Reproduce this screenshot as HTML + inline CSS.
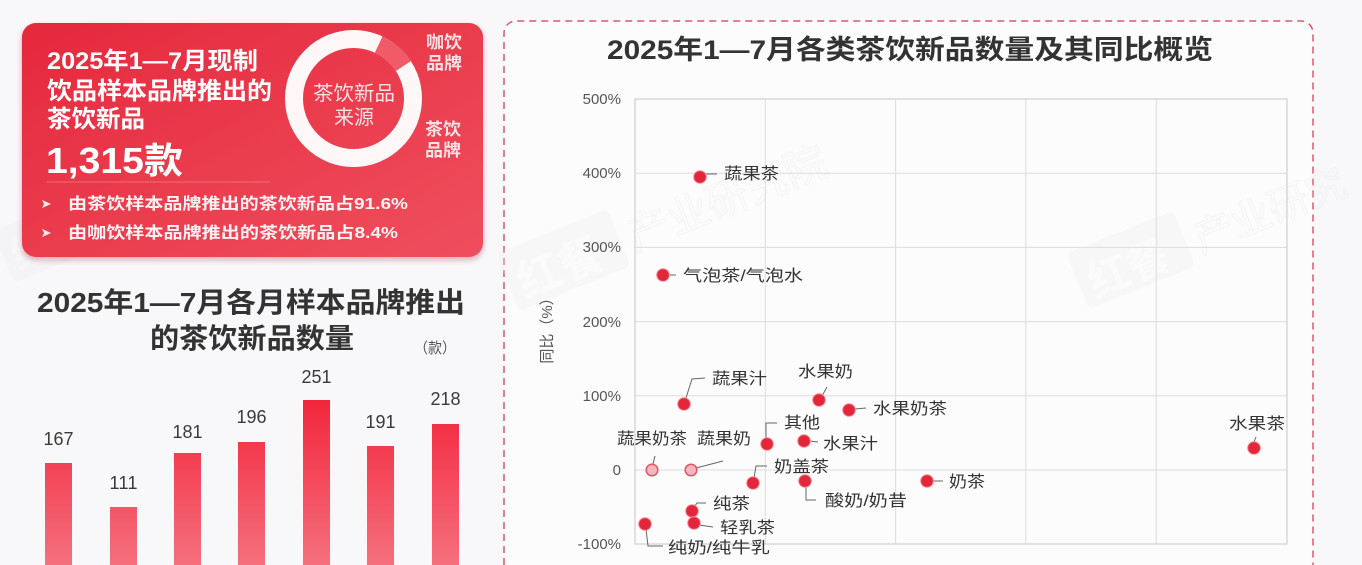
<!DOCTYPE html>
<html><head><meta charset="utf-8"><style>
html,body{margin:0;padding:0;background:#f8f8fa;width:1362px;height:565px;overflow:hidden;}
svg{display:block;}
text{font-family:"Liberation Sans","Noto Sans CJK SC",sans-serif;}
</style></head><body>
<svg width="1362" height="565" viewBox="0 0 1362 565" xmlns="http://www.w3.org/2000/svg">
<defs>
<linearGradient id="card" x1="0" y1="0" x2="1" y2="1">
<stop offset="0" stop-color="#e5283c"/><stop offset="1" stop-color="#ef4f5e"/>
</linearGradient>
<linearGradient id="bar" x1="0" y1="400" x2="0" y2="565" gradientUnits="userSpaceOnUse">
<stop offset="0" stop-color="#f2263c"/><stop offset="1" stop-color="#f5707d"/>
</linearGradient>
<filter id="sh" x="-10%" y="-10%" width="120%" height="130%">
<feDropShadow dx="0" dy="3" stdDeviation="3" flood-color="#b02030" flood-opacity="0.35"/>
</filter>
</defs>
<rect width="1362" height="565" fill="#f8f8fa"/>

<!-- watermarks -->
<g opacity="0.3">
<g transform="translate(8,268) rotate(-22)"><rect x="0" y="-40" width="110" height="56" rx="6" fill="#ebebed"/><text x="8" y="6" font-size="40" font-weight="bold" fill="#f7f7f8">红餐</text></g>
</g>

<!-- red card -->
<rect x="22" y="23" width="461" height="234" rx="14" fill="url(#card)" filter="url(#sh)"/>
<g fill="#ffffff" font-weight="bold">
<text x="47" y="69" font-size="24" textLength="211" lengthAdjust="spacingAndGlyphs">2025年1—7月现制</text>
<text x="47" y="99" font-size="24" textLength="225" lengthAdjust="spacingAndGlyphs">饮品样本品牌推出的</text>
<text x="47" y="127" font-size="24" textLength="98" lengthAdjust="spacingAndGlyphs">茶饮新品</text>
<text x="46" y="173" font-size="36" textLength="137" lengthAdjust="spacingAndGlyphs">1,315款</text>
</g>
<line x1="47" y1="182" x2="270" y2="182" stroke="#ffffff" stroke-opacity="0.25" stroke-width="1"/>
<polygon points="42,200 51,204 42,208 44,204" fill="#ffe9ea"/>
<polygon points="42,229 51,233 42,237 44,233" fill="#ffe9ea"/>
<g fill="#fff2f3" font-weight="bold" font-size="16">
<text x="68" y="209" textLength="340" lengthAdjust="spacingAndGlyphs">由茶饮样本品牌推出的茶饮新品占91.6%</text>
<text x="68" y="238" textLength="330" lengthAdjust="spacingAndGlyphs">由咖饮样本品牌推出的茶饮新品占8.4%</text>
</g>
<!-- donut -->
<circle cx="353.5" cy="98.5" r="59.5" fill="none" stroke="#fdf7f7" stroke-width="18"/>
<circle cx="353.5" cy="98.5" r="59.5" fill="none" stroke="#f15a69" stroke-width="18" stroke-dasharray="33.2 400" transform="rotate(-65 353.5 98.5)"/>
<g fill="#fde2e5" font-size="20" text-anchor="middle">
<text x="354" y="100" textLength="82" lengthAdjust="spacingAndGlyphs">茶饮新品</text>
<text x="354" y="124">来源</text>
</g>
<g fill="#fde2e5" font-size="17" font-weight="bold">
<text x="426" y="48" textLength="36" lengthAdjust="spacingAndGlyphs">咖饮</text>
<text x="426" y="69" textLength="36" lengthAdjust="spacingAndGlyphs">品牌</text>
<text x="425" y="135" textLength="36" lengthAdjust="spacingAndGlyphs">茶饮</text>
<text x="425" y="156" textLength="36" lengthAdjust="spacingAndGlyphs">品牌</text>
</g>

<!-- bar chart -->
<g fill="#333" font-weight="bold" font-size="28">
<text x="37" y="312" textLength="428" lengthAdjust="spacingAndGlyphs">2025年1—7月各月样本品牌推出</text>
<text x="150" y="348" textLength="204" lengthAdjust="spacingAndGlyphs">的茶饮新品数量</text>
</g>
<text x="414" y="353" font-size="15" fill="#555" textLength="42" lengthAdjust="spacingAndGlyphs">（款）</text>
<g fill="url(#bar)">
<rect x="45" y="463" width="27" height="102"/>
<rect x="110" y="507" width="27" height="58"/>
<rect x="174" y="453" width="27" height="112"/>
<rect x="238" y="442" width="27" height="123"/>
<rect x="303" y="400" width="27" height="165"/>
<rect x="367" y="446" width="27" height="119"/>
<rect x="432" y="424" width="27" height="141"/>
</g>
<g fill="#3a3a3a" font-size="18" text-anchor="middle">
<text x="58.5" y="445">167</text>
<text x="123.5" y="489" textLength="28" lengthAdjust="spacing">111</text>
<text x="187.5" y="438">181</text>
<text x="251.5" y="423">196</text>
<text x="316.5" y="383">251</text>
<text x="380.5" y="428">191</text>
<text x="445.5" y="405">218</text>
</g>

<!-- scatter panel -->
<path d="M504,565 V33 A12,12 0 0 1 516,21 H1301 A12,12 0 0 1 1313,33 V565 Z" fill="#fcfcfd"/>
<path d="M504,565 V33 A12,12 0 0 1 516,21 H1301 A12,12 0 0 1 1313,33 V565" fill="none" stroke="#d65a6a" stroke-width="1.5" stroke-dasharray="7 5"/>
<g opacity="0.3">
<g transform="translate(515,300) rotate(-22)"><rect x="0" y="-50" width="120" height="62" rx="6" fill="#ececee"/><text x="10" y="2" font-size="44" font-weight="bold" fill="#f8f8f9">红餐</text><text x="130" y="0" font-size="42" fill="none" stroke="#e2e2e4">产业研究院</text></g>
<g transform="translate(1085,300) rotate(-22)"><rect x="0" y="-50" width="115" height="60" rx="6" fill="#ececee"/><text x="10" y="2" font-size="42" font-weight="bold" fill="#f8f8f9">红餐</text><text x="125" y="0" font-size="40" fill="none" stroke="#e2e2e4">产业研究</text></g>
</g>
<text x="607" y="59" font-size="27" font-weight="bold" fill="#333" textLength="606" lengthAdjust="spacingAndGlyphs">2025年1—7月各类茶饮新品数量及其同比概览</text>

<!-- grid -->
<g stroke="#dcdcdf" stroke-width="1">
<line x1="765.3" y1="99" x2="765.3" y2="544"/>
<line x1="895.6" y1="99" x2="895.6" y2="544"/>
<line x1="1025.9" y1="99" x2="1025.9" y2="544"/>
<line x1="1156.2" y1="99" x2="1156.2" y2="544"/>
<line x1="635" y1="173.2" x2="1287" y2="173.2"/>
<line x1="635" y1="247.4" x2="1287" y2="247.4"/>
<line x1="635" y1="321.6" x2="1287" y2="321.6"/>
<line x1="635" y1="395.8" x2="1287" y2="395.8"/>
<line x1="635" y1="470" x2="1287" y2="470"/>
</g>
<rect x="635" y="99" width="652" height="445" fill="none" stroke="#cfcfd3" stroke-width="1.2"/>
<g fill="#555" font-size="15" text-anchor="end">
<text x="621" y="104">500%</text>
<text x="621" y="178">400%</text>
<text x="621" y="252">300%</text>
<text x="621" y="327">200%</text>
<text x="621" y="401">100%</text>
<text x="621" y="475">0</text>
<text x="621" y="549">-100%</text>
</g>
<text transform="translate(552,327) rotate(-90)" font-size="15" fill="#555" text-anchor="middle">同比（%）</text>

<!-- leaders -->
<g stroke="#666" stroke-width="1" fill="none">
<line x1="706" y1="174" x2="717" y2="174"/>
<line x1="669" y1="275" x2="676" y2="275"/>
<polyline points="686,398 692,379 705,378"/>
<line x1="822" y1="396" x2="827" y2="387"/>
<line x1="855" y1="409" x2="866" y2="408"/>
<polyline points="766,438 766,423 777,423"/>
<line x1="810" y1="441" x2="818" y2="442"/>
<line x1="653" y1="464" x2="655" y2="456"/>
<line x1="696" y1="468" x2="723" y2="461"/>
<polyline points="754,478 756,466 767,466"/>
<polyline points="806,486 806,500 816,500"/>
<line x1="933" y1="481" x2="943" y2="481"/>
<polyline points="695,506 697,503 706,503"/>
<line x1="699" y1="525" x2="713" y2="527"/>
<polyline points="646,529 648,546 663,546"/>
<line x1="1254" y1="442" x2="1256" y2="437"/>
</g>
<!-- points -->
<g fill="#e3263a" stroke="#f48c96" stroke-width="1">
<circle cx="700" cy="177" r="6.3"/>
<circle cx="663" cy="275" r="6.3"/>
<circle cx="684" cy="404" r="6.3"/>
<circle cx="819" cy="400" r="6.3"/>
<circle cx="849" cy="410" r="6.3"/>
<circle cx="767" cy="444" r="6.3"/>
<circle cx="804" cy="441" r="6.3"/>
<circle cx="753" cy="483" r="6.3"/>
<circle cx="805" cy="481" r="6.3"/>
<circle cx="927" cy="481" r="6.3"/>
<circle cx="692" cy="511" r="6.3"/>
<circle cx="694" cy="523" r="6.3"/>
<circle cx="645" cy="524" r="6.3"/>
<circle cx="1254" cy="448" r="6.3"/>
</g>
<g fill="#f3b6bc" stroke="#e35564" stroke-width="1.5">
<circle cx="652" cy="470" r="5.8"/>
<circle cx="691" cy="470" r="5.8"/>
</g>
<!-- labels -->
<g fill="#333" font-size="16">
<text x="724" y="179" textLength="55" lengthAdjust="spacingAndGlyphs">蔬果茶</text>
<text x="683" y="281" textLength="120" lengthAdjust="spacingAndGlyphs">气泡茶/气泡水</text>
<text x="712" y="384" textLength="55" lengthAdjust="spacingAndGlyphs">蔬果汁</text>
<text x="798" y="377" textLength="55" lengthAdjust="spacingAndGlyphs">水果奶</text>
<text x="873" y="414" textLength="74" lengthAdjust="spacingAndGlyphs">水果奶茶</text>
<text x="784" y="428" textLength="36" lengthAdjust="spacingAndGlyphs">其他</text>
<text x="823" y="449" textLength="55" lengthAdjust="spacingAndGlyphs">水果汁</text>
<text x="617" y="444" textLength="70" lengthAdjust="spacingAndGlyphs">蔬果奶茶</text>
<text x="697" y="444" textLength="54" lengthAdjust="spacingAndGlyphs">蔬果奶</text>
<text x="774" y="472" textLength="55" lengthAdjust="spacingAndGlyphs">奶盖茶</text>
<text x="825" y="506" textLength="82" lengthAdjust="spacingAndGlyphs">酸奶/奶昔</text>
<text x="949" y="487" textLength="36" lengthAdjust="spacingAndGlyphs">奶茶</text>
<text x="713" y="509" textLength="37" lengthAdjust="spacingAndGlyphs">纯茶</text>
<text x="720" y="533" textLength="55" lengthAdjust="spacingAndGlyphs">轻乳茶</text>
<text x="668" y="553" textLength="102" lengthAdjust="spacingAndGlyphs">纯奶/纯牛乳</text>
<text x="1229" y="429" textLength="56" lengthAdjust="spacingAndGlyphs">水果茶</text>
</g>
</svg>
</body></html>
